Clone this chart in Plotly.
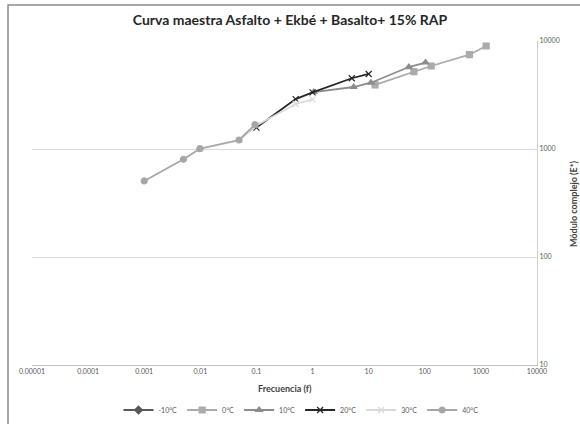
import plotly.graph_objects as go

# Data
series_names = ["-10°C", "0°C", "10°C", "20°C", "30°C", "40°C"]

f_m10 = []
e_m10 = []

f_0 = [13.0, 64.0, 130.0, 625.0, 1240.0]
e_0 = [3920, 5200, 5870, 7470, 8990]

f_10 = [1.05, 5.4, 11.0, 52.0, 103.0]
e_10 = [3370, 3750, 4110, 5740, 6320]

f_20 = [0.1, 0.5, 1.0, 5.0, 10.0]
e_20 = [1580, 2900, 3350, 4520, 4950]

f_30 = [0.01, 0.05, 0.1, 0.5, 1.0]
e_30 = [1010, 1210, 1650, 2610, 2885]

f_40 = [0.001, 0.005, 0.0098, 0.049, 0.094]
e_40 = [506, 804, 1006, 1211, 1678]

x_tick_vals = [0.00001, 0.0001, 0.001, 0.01, 0.1, 1, 10, 100, 1000, 10000]
x_tick_text = ["0.00001", "0.0001", "0.001", "0.01", "0.1", "1", "10", "100", "1000", "10000"]
y_tick_vals = [10, 100, 1000, 10000]
y_tick_text = ["10", "100", "1000", "10000"]

styles = [
    dict(color="#595959", symbol="diamond", size=6),
    dict(color="#ababab", symbol="square", size=6),
    dict(color="#8c8c8c", symbol="triangle-up", size=6),
    dict(color="#262626", symbol="x-thin", size=6),
    dict(color="#d9d9d9", symbol="x-thin", size=6),
    dict(color="#a6a6a6", symbol="circle", size=6),
]

xs = [f_m10, f_0, f_10, f_20, f_30, f_40]
ys = [e_m10, e_0, e_10, e_20, e_30, e_40]

FONT = "Lato"

W, H = 580, 424
L, R, T, B = 32, 43, 41, 59
PW, PH = W - L - R, H - T - B

fig = go.Figure()
for name, x, y, st in zip(series_names, xs, ys, styles):
    fig.add_trace(go.Scatter(
        x=x if len(x) else [None], y=y if len(y) else [None],
        name=name, mode="lines+markers",
        line=dict(color=st["color"], width=1.8),
        marker=dict(color=st["color"], symbol=st["symbol"], size=st["size"],
                    line=dict(color=st["color"], width=1.2)),
    ))

fig.update_layout(
    width=W, height=H, autosize=False,
    margin=dict(l=L, r=R, t=T, b=B, autoexpand=False),
    paper_bgcolor="white", plot_bgcolor="white",
    font=dict(family=FONT, color="#595959", size=8),
    title=dict(text="<b>Curva maestra Asfalto + Ekbé + Basalto+ 15% RAP</b>",
               x=0.5, xanchor="center", y=1 - 20 / H, yanchor="middle",
               font=dict(family=FONT, size=14, color="#262626")),
    showlegend=True,
    legend=dict(orientation="h", x=(301 - L) / PW, xanchor="center",
                y=-(410 - (H - B)) / PH, yanchor="middle",
                font=dict(family=FONT, size=7, color="#595959"),
                itemwidth=30, tracegroupgap=0),
    xaxis=dict(type="log", range=[-5, 4], tickvals=x_tick_vals, ticktext=x_tick_text,
               showgrid=False, zeroline=False, showline=True, linecolor="#bfbfbf", linewidth=1,
               ticks="", tickfont=dict(family=FONT, size=7, color="#595959")),
    yaxis=dict(type="log", range=[1, 4], tickvals=y_tick_vals, ticktext=y_tick_text,
               side="right", showgrid=True, gridcolor="#d9d9d9", gridwidth=1,
               zeroline=False, showline=True, linecolor="#d0d0d0", linewidth=1,
               ticks="", tickfont=dict(family=FONT, size=7, color="#595959")),
)

fig.add_annotation(text="<b>Frecuencia (f)</b>", xref="paper", yref="paper",
                   x=0.5, y=-23 / PH, xanchor="center", yanchor="middle", showarrow=False,
                   font=dict(family=FONT, size=9, color="#404040"))
fig.add_annotation(text="<b>Módulo complejo (E*)</b>", xref="paper", yref="paper",
                   x=(573 - L) / PW, y=(H - B - 204) / PH, xanchor="center", yanchor="middle",
                   showarrow=False, textangle=-90,
                   font=dict(family=FONT, size=9, color="#404040"))

# outer chart border
fig.add_shape(type="rect", xref="paper", yref="paper",
              x0=(8 - L) / PW, x1=1.3, y0=-0.4, y1=(H - B - 5) / PH,
              line=dict(color="#8c8c8c", width=1.5), fillcolor="rgba(0,0,0,0)", layer="below")

fig.write_html("out.html", config={"displayModeBar": False},
               post_script="document.body.style.margin='0';document.body.style.overflow='hidden';")
